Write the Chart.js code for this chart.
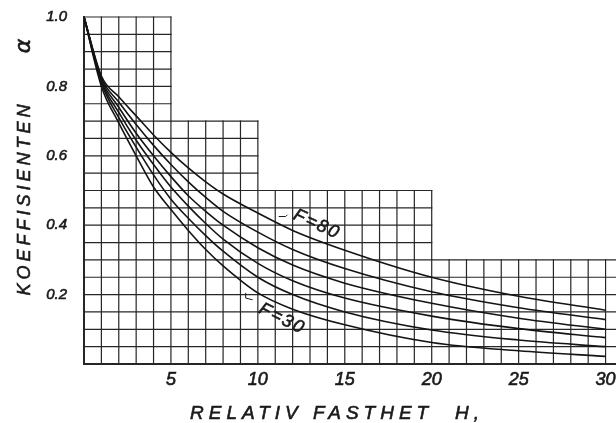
<!DOCTYPE html>
<html>
<head>
<meta charset="utf-8">
<title>Koeffisienten alpha</title>
<script src="https://cdn.jsdelivr.net/npm/chart.js@4.4.1/dist/chart.umd.min.js"></script>
<style>
  html, body { margin: 0; padding: 0; background: #ffffff; }
  #wrap { width: 616px; height: 423px; }
</style>
</head>
<body>
<div id="wrap"><canvas id="alphaChart" width="616" height="423"></canvas></div>
<script>
// relativ fasthet H (x) and koeffisient alpha per F-curve
const xValues = [0, 1, 2, 3, 4, 5, 6, 7, 8, 10, 12, 15, 20, 25, 30];
const curveF80 = [1.0, 0.83, 0.77, 0.715, 0.66, 0.61, 0.565, 0.525, 0.49, 0.435, 0.385, 0.328, 0.25, 0.195, 0.155];
const curveF70 = [1.0, 0.825, 0.755, 0.69, 0.63, 0.575, 0.525, 0.48, 0.44, 0.38, 0.33, 0.275, 0.208, 0.162, 0.128];
const curveF60 = [1.0, 0.82, 0.74, 0.665, 0.6, 0.54, 0.485, 0.44, 0.4, 0.335, 0.285, 0.233, 0.175, 0.132, 0.1];
const curveF50 = [1.0, 0.815, 0.725, 0.645, 0.575, 0.51, 0.455, 0.405, 0.36, 0.29, 0.24, 0.19, 0.138, 0.102, 0.076];
const curveF40 = [1.0, 0.81, 0.71, 0.625, 0.545, 0.475, 0.42, 0.37, 0.325, 0.25, 0.2, 0.15, 0.098, 0.069, 0.05];
const curveF30 = [1.0, 0.8, 0.695, 0.6, 0.51, 0.445, 0.385, 0.33, 0.283, 0.205, 0.158, 0.113, 0.062, 0.038, 0.022];

// tick labels
const xTickValues = [5, 10, 15, 20, 25, 30];
const xTickLabels = ["5", "10", "15", "20", "25", "30"];
const yTickValues = [0.2, 0.4, 0.6, 0.8, 1.0];
const yTickLabels = ["0.2", "0.4", "0.6", "0.8", "1.0"];

// stepped grid paper: each block ends at stepEnds and reaches up to stepTops
const stepEnds = [5, 10, 20, 30.6];
const stepTops = [1.0, 0.7, 0.5, 0.3];

const curveNames = ["F=80", "F=30"];

function toPoints(vals) {
  return xValues.map((xv, i) => ({ x: xv, y: vals[i] }));
}

function topAt(xv) {
  for (let k = 0; k < stepEnds.length; k++) {
    if (xv <= stepEnds[k] + 1e-9) return stepTops[k];
  }
  return stepTops[stepTops.length - 1];
}

function rightAt(yv) {
  let end = stepEnds[0];
  for (let k = 0; k < stepTops.length; k++) {
    if (stepTops[k] >= yv - 1e-9) end = stepEnds[k];
  }
  return end;
}

// text with a thin outline so it looks like inked lettering
function inkText(ctx, str, x, y) {
  ctx.fillText(str, x, y);
  ctx.strokeText(str, x, y);
}

const gridPlugin = {
  id: "stepGrid",
  beforeDatasetsDraw(chart) {
    const ctx = chart.ctx;
    const xs = chart.scales.x;
    const ys = chart.scales.y;
    ctx.save();
    ctx.strokeStyle = "#262626";
    ctx.lineCap = "square";

    // vertical lines, one per unit of H
    for (let i = 0; i <= 30; i++) {
      const px = xs.getPixelForValue(i);
      ctx.lineWidth = i === 0 ? 2 : 1.2;
      ctx.beginPath();
      ctx.moveTo(px, ys.getPixelForValue(0));
      ctx.lineTo(px, ys.getPixelForValue(topAt(i)));
      ctx.stroke();
    }
    // horizontal lines every 0.05
    for (let j = 0; j <= 20; j++) {
      const v = j * 0.05;
      const py = ys.getPixelForValue(v);
      ctx.lineWidth = j === 0 ? 2 : 1.2;
      ctx.beginPath();
      ctx.moveTo(xs.getPixelForValue(0), py);
      ctx.lineTo(xs.getPixelForValue(rightAt(v)), py);
      ctx.stroke();
    }
    ctx.restore();
  },
  afterDraw(chart) {
    const ctx = chart.ctx;
    const xs = chart.scales.x;
    const ys = chart.scales.y;
    ctx.save();
    ctx.fillStyle = "#1a1a1a";
    ctx.strokeStyle = "#1a1a1a";
    ctx.lineWidth = 0.6;
    ctx.textBaseline = "middle";

    // y title
    ctx.save();
    ctx.translate(25, 198);
    ctx.rotate(-Math.PI / 2);
    ctx.font = "italic 18px 'Liberation Sans'";
    ctx.letterSpacing = "4px";
    ctx.textAlign = "center";
    inkText(ctx, "KOEFFISIENTEN", 0, 0);
    ctx.restore();
    ctx.save();
    ctx.translate(24, 46);
    ctx.rotate(-Math.PI / 2);
    ctx.font = "italic 22px 'DejaVu Sans'";
    ctx.textAlign = "center";
    inkText(ctx, "α", 0, 0);
    ctx.restore();

    // x title
    ctx.font = "italic 19px 'Liberation Sans'";
    ctx.letterSpacing = "5px";
    ctx.textAlign = "left";
    inkText(ctx, "RELATIV FASTHET", 190, 414);
    inkText(ctx, "H,", 455, 414);
    ctx.letterSpacing = "0px";

    // curve labels with small leader marks
    const marks = [
      { x: 13.4, y: 0.402, ang: 0.43, lx: [11.2, 11.6, 11.7], ly: [0.425, 0.425, 0.43] },
      { x: 11.4, y: 0.13, ang: 0.47, lx: [9.3, 9.3, 9.7], ly: [0.205, 0.19, 0.185] },
    ];
    ctx.font = "italic 18px 'Liberation Sans'";
    ctx.letterSpacing = "2px";
    ctx.textAlign = "center";
    marks.forEach((m, i) => {
      ctx.save();
      ctx.translate(xs.getPixelForValue(m.x), ys.getPixelForValue(m.y));
      ctx.rotate(m.ang);
      inkText(ctx, curveNames[i], 0, 0);
      ctx.restore();
      ctx.lineWidth = 1;
      ctx.beginPath();
      ctx.moveTo(xs.getPixelForValue(m.lx[0]), ys.getPixelForValue(m.ly[0]));
      for (let k = 1; k < m.lx.length; k++) {
        ctx.lineTo(xs.getPixelForValue(m.lx[k]), ys.getPixelForValue(m.ly[k]));
      }
      ctx.stroke();
      ctx.lineWidth = 0.6;
    });
    ctx.restore();
  },
};

document.addEventListener("DOMContentLoaded", function () {
  const curves = [curveF80, curveF70, curveF60, curveF50, curveF40, curveF30];

  const datasets = curves.map((vals, i) => ({
    label: "F" + (80 - i * 10),
    data: toPoints(vals),
    borderColor: "#141414",
    borderWidth: 1.6,
    pointRadius: 0,
    fill: false,
    cubicInterpolationMode: "monotone",
  }));

  new Chart(document.getElementById("alphaChart"), {
    type: "line",
    data: { datasets: datasets },
    options: {
      responsive: false,
      animation: false,
      layout: { padding: { top: 17, right: 0, left: 0, bottom: 0 } },
      plugins: {
        legend: { display: false },
        tooltip: { enabled: false },
      },
      scales: {
        x: {
          type: "linear",
          min: 0,
          max: 30.6,
          grid: { display: false, drawTicks: false },
          border: { display: false },
          afterBuildTicks: (s) => {
            s.ticks = xTickValues.map((v) => ({ value: v }));
          },
          afterFit: (s) => {
            s.height = 59;
            s.paddingLeft = 0;
            s.paddingRight = 0;
          },
          ticks: {
            padding: 5,
            color: "#1a1a1a",
            textStrokeColor: "#1a1a1a",
            textStrokeWidth: 0.6,
            font: { family: "'Liberation Sans'", size: 18, style: "italic" },
            callback: (v, i) => xTickLabels[i],
          },
        },
        y: {
          type: "linear",
          min: 0,
          max: 1.0,
          grid: { display: false, drawTicks: false },
          border: { display: false },
          afterBuildTicks: (s) => {
            s.ticks = yTickValues.map((v) => ({ value: v }));
          },
          afterFit: (s) => {
            s.width = 84;
            s.paddingTop = 0;
            s.paddingBottom = 0;
          },
          ticks: {
            padding: 17,
            color: "#1a1a1a",
            textStrokeColor: "#1a1a1a",
            textStrokeWidth: 0.6,
            font: { family: "'Liberation Sans'", size: 15, style: "italic" },
            callback: (v, i) => yTickLabels[i],
          },
        },
      },
    },
    plugins: [gridPlugin],
  });
});
</script>
</body>
</html>
